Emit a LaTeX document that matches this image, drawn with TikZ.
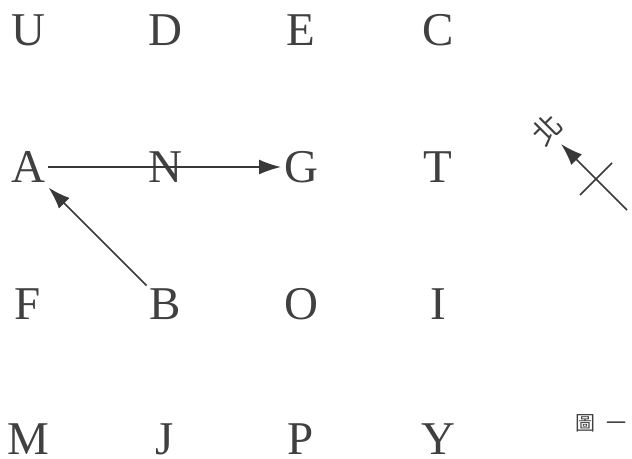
\documentclass[tikz,border=0pt]{standalone}
\usepackage{fontspec}
\setmainfont{Liberation Serif}
\newfontfamily\cjk{Noto Sans CJK TC}
\usetikzlibrary{arrows.meta}

\begin{document}
\begin{tikzpicture}[x=1pt, y=-1pt,
  letter/.style={font=\fontsize{47}{50}\selectfont, text height=31pt, text depth=0pt, inner sep=2pt, outer sep=1pt, text=black!75},
  route/.style={-{Latex[length=22pt, width=15pt]}, line width=1.7pt, black!78}]

\useasboundingbox (0,0) rectangle (632,458);

\node[letter] (U) at (28, 30) {U};
\node[letter] (D) at (165, 30) {D};
\node[letter] (E) at (301, 30) {E};
\node[letter] (C) at (438, 30) {C};

\node[letter] (A) at (28, 167) {A};
\node[letter] (N) at (165, 167) {N};
\node[letter] (G) at (301, 167) {G};
\node[letter] (T) at (438, 167) {T};

\node[letter] (F) at (28, 304) {F};
\node[letter] (B) at (165, 304) {B};
\node[letter] (O) at (301, 304) {O};
\node[letter] (I) at (438, 304) {I};

\node[letter] (M) at (28, 439) {M};
\node[letter] (J) at (165, 439) {J};
\node[letter] (P) at (301, 439) {P};
\node[letter] (Y) at (438, 439) {Y};

% north sign
\coordinate (NTAIL) at (627, 210);
\coordinate (NHEAD) at (561, 144);
\coordinate (CROSSL) at (580, 195);
\coordinate (CROSSR) at (612, 163);
\node[rotate=45, font=\cjk\fontsize{29}{29}\selectfont, text=black!75] (NORTH) at (547, 130) {北};
\node[anchor=west, inner sep=0pt, font=\cjk\fontsize{20}{20}\selectfont, text=black!75] (FIG) at (575, 423) {圖\hspace{11pt}一};

\draw[route] (A) -- (G);
\draw[route, shorten >=3pt] (B) -- (A);
\draw[route] (NTAIL) -- (NHEAD);
\draw[line width=1.7pt, black!78] (CROSSL) -- (CROSSR);

\end{tikzpicture}
\end{document}
